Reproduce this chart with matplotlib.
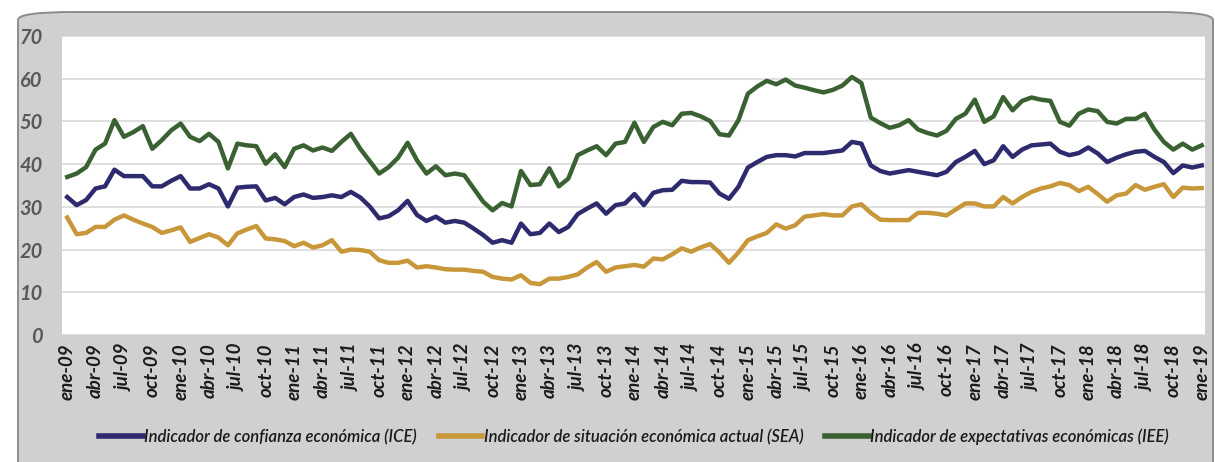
import numpy as np
import matplotlib.pyplot as plt
from matplotlib.patches import FancyBboxPatch

# monthly data, ene-09 .. ene-19
meses = ["ene", "feb", "mar", "abr", "may", "jun", "jul", "ago", "sep", "oct", "nov", "dic"]
fechas = [f"{meses[i % 12]}-{9 + i // 12:02d}" for i in range(121)]

ice = [32.3, 30.4, 31.6, 34.3, 34.8, 38.7, 37.2, 37.2, 37.2, 34.8,
       34.8, 36.1, 37.2, 34.3, 34.3, 35.3, 34.3, 30.1, 34.5, 34.7,
       34.8, 31.5, 32.1, 30.6, 32.3, 32.9, 32.1, 32.3, 32.7, 32.3,
       33.5, 32.2, 30.1, 27.3, 27.8, 29.2, 31.4, 28.1, 26.7, 27.7,
       26.3, 26.7, 26.3, 24.9, 23.4, 21.6, 22.2, 21.6, 26.1, 23.6,
       23.9, 26.1, 24.1, 25.3, 28.3, 29.6, 30.8, 28.4, 30.4, 30.8,
       33.0, 30.4, 33.3, 33.9, 34.0, 36.1, 35.8, 35.8, 35.7, 33.1,
       31.9, 34.7, 39.2, 40.5, 41.7, 42.1, 42.1, 41.8, 42.6, 42.6,
       42.6, 42.9, 43.2, 45.2, 44.8, 39.7, 38.4, 37.8, 38.2, 38.6,
       38.2, 37.8, 37.4, 38.2, 40.5, 41.7, 43.1, 40.0, 40.9, 44.2,
       41.7, 43.4, 44.4, 44.6, 44.8, 42.9, 42.1, 42.6, 43.9, 42.5,
       40.5, 41.5, 42.3, 42.9, 43.1, 41.7, 40.5, 37.9, 39.7, 39.2,
       39.7]

sea = [27.5, 23.6, 23.9, 25.3, 25.3, 27.0, 28.0, 27.0, 26.1, 25.3,
       23.9, 24.5, 25.2, 21.8, 22.7, 23.6, 22.8, 21.0, 23.8, 24.7,
       25.5, 22.6, 22.4, 22.0, 20.8, 21.6, 20.5, 21.0, 22.2, 19.5,
       20.0, 19.9, 19.5, 17.5, 16.9, 16.9, 17.4, 15.8, 16.1, 15.8,
       15.4, 15.3, 15.3, 15.0, 14.8, 13.6, 13.2, 13.0, 14.0, 12.2,
       11.9, 13.2, 13.2, 13.6, 14.2, 15.8, 17.1, 14.8, 15.8, 16.1,
       16.4, 16.0, 17.9, 17.7, 18.9, 20.3, 19.5, 20.5, 21.3, 19.3,
       16.9, 19.3, 22.2, 23.1, 23.9, 25.9, 24.9, 25.7, 27.7, 28.0,
       28.3, 28.0, 28.0, 30.1, 30.6, 28.6, 27.0, 26.9, 26.9, 26.9,
       28.6, 28.6, 28.4, 28.0, 29.4, 30.8, 30.8, 30.1, 30.1, 32.3,
       30.8, 32.3, 33.5, 34.3, 34.8, 35.6, 35.1, 33.7, 34.7, 33.0,
       31.2, 32.7, 33.1, 35.1, 34.0, 34.7, 35.3, 32.3, 34.5, 34.3,
       34.4]

iee = [37.0, 37.8, 39.3, 43.4, 44.8, 50.3, 46.4, 47.5, 48.9, 43.6,
       45.6, 47.9, 49.5, 46.4, 45.4, 47.1, 45.2, 39.0, 44.8, 44.4,
       44.2, 40.1, 42.3, 39.3, 43.6, 44.4, 43.2, 43.9, 43.1, 45.2,
       47.1, 43.6, 40.7, 37.8, 39.3, 41.5, 45.0, 40.9, 37.8, 39.5,
       37.4, 37.8, 37.4, 34.3, 31.2, 29.2, 30.9, 30.1, 38.4, 35.1,
       35.3, 39.0, 34.8, 36.6, 42.1, 43.2, 44.2, 42.1, 44.8, 45.2,
       49.7, 45.2, 48.7, 49.9, 49.1, 51.8, 52.0, 51.2, 50.1, 47.0,
       46.7, 50.3, 56.5, 58.2, 59.5, 58.7, 59.8, 58.4, 57.9, 57.3,
       56.8, 57.4, 58.4, 60.4, 59.0, 50.9, 49.6, 48.5, 49.1, 50.3,
       48.1, 47.3, 46.7, 47.8, 50.6, 51.8, 55.1, 49.9, 51.2, 55.7,
       52.6, 54.8, 55.6, 55.1, 54.8, 49.9, 49.0, 51.8, 52.8, 52.4,
       49.9, 49.5, 50.6, 50.6, 51.8, 48.1, 45.2, 43.4, 44.8, 43.4,
       44.4]

plt.rcParams['font.family'] = ['Lato', 'DejaVu Sans']

fig = plt.figure(figsize=(12.15, 4.62), dpi=100)
fig.patch.set_facecolor("white")

# rounded gray frame behind the chart
box = FancyBboxPatch((18 / 1215, -0.05), (1213 - 18) / 1215, 1 - 12 / 462 + 0.05,
                     boxstyle="round,pad=0,rounding_size=0.045",
                     transform=fig.transFigure, facecolor="#d0d0d0",
                     edgecolor="#8c8c8c", linewidth=1.4, zorder=-10,
                     mutation_aspect=462 / 1215)
fig.patches.append(box)

ax = fig.add_axes([62 / 1215, 1 - 335 / 462, 1143 / 1215, 299 / 462])
ax.set_facecolor("white")
ax.set_zorder(1)

x = np.arange(len(fechas))
ax.plot(x, ice, color="#2e2a6e", linewidth=3.2, label="Indicador de confianza económica (ICE)")
ax.plot(x, sea, color="#c8973a", linewidth=3.2, label="Indicador de situación económica actual (SEA)")
ax.plot(x, iee, color="#3a6132", linewidth=3.2, label="Indicador de expectativas económicas (IEE)")

ax.set_xlim(-0.55, 120.35)
ax.set_ylim(0, 70)
ax.set_yticks(range(0, 71, 10))
ax.yaxis.grid(True, color="#d9d9d9", linewidth=1.2)
ax.set_axisbelow(True)
ax.set_xticks(x[::3])
ax.set_xticklabels(fechas[::3], rotation=90, fontsize=13.5, fontweight="bold",
                   fontstyle="italic", color="#1a1a1a")
for lab in ax.get_yticklabels():
    lab.set_fontsize(14.5)
    lab.set_fontweight("bold")
    lab.set_fontstyle("italic")
    lab.set_color("#595959")
ax.tick_params(axis="both", length=0)
ax.tick_params(axis="y", pad=14)
ax.tick_params(axis="x", pad=6)
for s in ax.spines.values():
    s.set_visible(False)

fig.legend(loc="center", bbox_to_anchor=(0.522, 1 - 437 / 462), ncol=3, frameon=False,
           prop={"size": 12, "style": "italic", "weight": "semibold"}, handlelength=2.6,
           handletextpad=0.1, columnspacing=1.3, labelcolor="#1a1a1a")
for line in fig.legends[0].get_lines():
    line.set_linewidth(4)

fig.savefig("out.png", dpi=100)
